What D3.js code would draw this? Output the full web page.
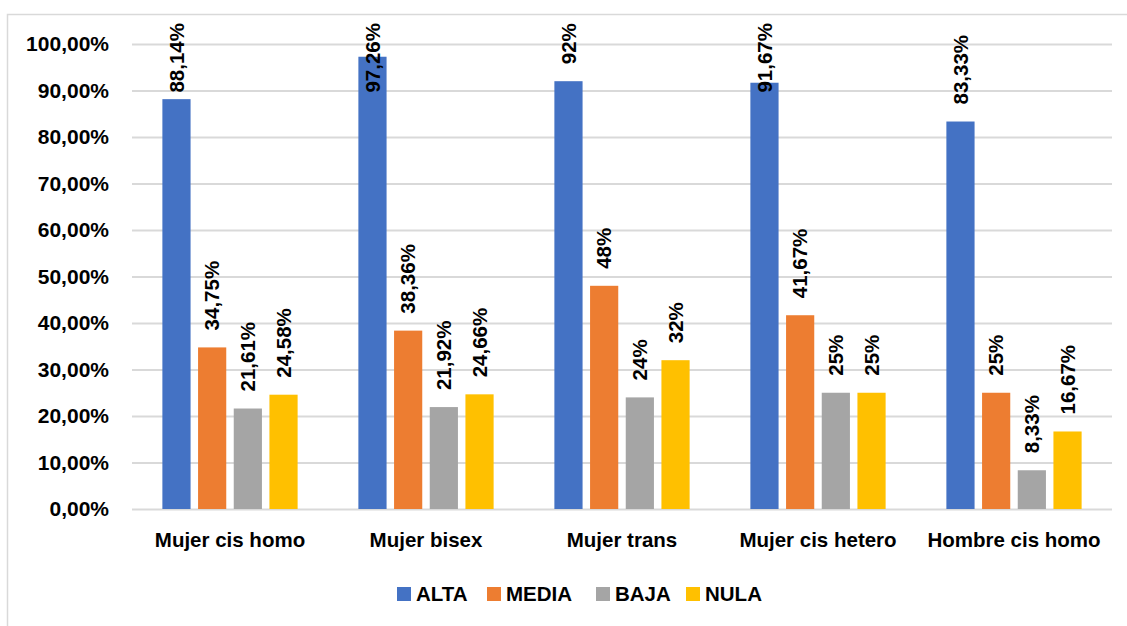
<!DOCTYPE html>
<html>
<head>
<meta charset="utf-8">
<script src="https://cdn.jsdelivr.net/npm/d3@7"></script>
<style>
  body { margin: 0; background: #fff; }
  text { font-family: "Liberation Sans", Arial, sans-serif; font-weight: bold; fill: #000; }
</style>
</head>
<body>
<div id="container"></div>
<script>
/* DATA */
const categories = ["Mujer cis homo", "Mujer bisex", "Mujer trans", "Mujer cis hetero", "Hombre cis homo"];
const seriesNames = ["ALTA", "MEDIA", "BAJA", "NULA"];
const alta = [88.14, 97.26, 92, 91.67, 83.33];
const media = [34.75, 38.36, 48, 41.67, 25];
const baja = [21.61, 21.92, 24, 25, 8.33];
const nula = [24.58, 24.66, 32, 25, 16.67];
const yTicks = [0, 10, 20, 30, 40, 50, 60, 70, 80, 90, 100];
const colors = ["#4472C4", "#ED7D31", "#A5A5A5", "#FFC000"];

const seriesValues = [alta, media, baja, nula];

/* CONSTANTS */
const width = 1127, height = 626;
const margin = { top: 44, bottom: 117, left: 132, right: 15 };

const svg = d3.select("#container")
  .append("svg")
  .attr("width", width)
  .attr("height", height);

// chart frame
svg.append("rect")
  .attr("x", 7.5).attr("y", 14.5)
  .attr("width", 1130).attr("height", 620)
  .attr("fill", "#fff")
  .attr("stroke", "#d9d9d9")
  .attr("stroke-width", 1.5);

/* SCALES */
const x0 = d3.scaleBand()
  .domain(categories)
  .range([margin.left, width - margin.right])
  .paddingInner(0.31)
  .paddingOuter(0.155);

const x1 = d3.scaleBand()
  .domain(seriesNames)
  .range([0, x0.bandwidth()])
  .paddingInner(0.21);

const yScale = d3.scaleLinear()
  .domain([0, 100])
  .range([height - margin.bottom, margin.top]);

const colorScale = d3.scaleOrdinal().domain(seriesNames).range(colors);

const fmt = v => (Number.isInteger(v) ? String(v) : v.toFixed(2).replace(".", ",")) + "%";

/* GRID + Y AXIS */
const yAxis = d3.axisLeft(yScale)
  .tickValues(yTicks)
  .tickSize(-(width - margin.right - margin.left))
  .tickPadding(23)
  .tickFormat(d => d.toFixed(2).replace(".", ",") + "%");

const gy = svg.append("g")
  .attr("class", "y-axis")
  .attr("transform", `translate(${margin.left}, 0)`)
  .call(yAxis);
gy.select(".domain").remove();
gy.selectAll("line").attr("stroke", "#d9d9d9").attr("stroke-width", 2);
gy.selectAll("text").style("font-size", "21px");

/* BARS */
const rows = [];
categories.forEach((c, i) => {
  seriesNames.forEach((s, j) => rows.push({ cat: c, series: s, value: seriesValues[j][i] }));
});

svg.selectAll(".bars")
  .data(rows)
  .join("rect")
  .attr("class", "bars")
  .attr("x", d => x0(d.cat) + x1(d.series))
  .attr("y", d => yScale(d.value))
  .attr("width", x1.bandwidth())
  .attr("height", d => yScale(0) - yScale(d.value))
  .attr("fill", d => colorScale(d.series));

/* DATA LABELS */
const labels = svg.selectAll(".lbl")
  .data(rows)
  .join("text")
  .attr("class", "lbl")
  .style("font-size", "20.5px")
  .attr("dy", "0.35em")
  .text(d => fmt(d.value));

// outside end, pushed down when it would leave the chart area
labels.each(function (d) {
  const len = this.getComputedTextLength();
  const cx = x0(d.cat) + x1(d.series) + x1.bandwidth() / 2;
  const bottom = Math.max(yScale(d.value) - 17, 23 + len);
  d3.select(this).attr("transform", `translate(${cx}, ${bottom}) rotate(-90)`);
});

/* X AXIS LABELS */
svg.selectAll(".cat")
  .data(categories)
  .join("text")
  .attr("class", "cat")
  .attr("x", d => x0(d) + x0.bandwidth() / 2)
  .attr("y", 547)
  .attr("text-anchor", "middle")
  .style("font-size", "20.5px")
  .text(d => d);

/* LEGEND */
const legendX = [397, 487, 596, 686];
const legend = svg.selectAll(".legend")
  .data(seriesNames)
  .join("g")
  .attr("class", "legend")
  .attr("transform", (d, i) => `translate(${legendX[i]}, 587)`);

legend.append("rect")
  .attr("width", 14).attr("height", 14)
  .attr("fill", d => colorScale(d));

legend.append("text")
  .attr("x", 19).attr("y", 7)
  .attr("dy", "0.35em")
  .style("font-size", "20.5px")
  .text(d => d);
</script>
</body>
</html>
